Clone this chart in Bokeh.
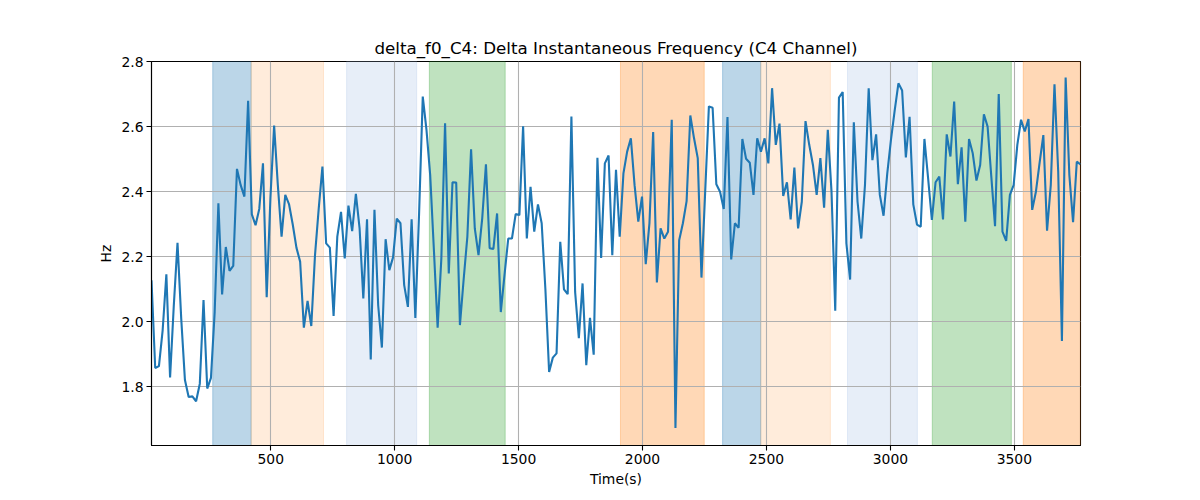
from bokeh.plotting import figure
from bokeh.models import BoxAnnotation, Range1d, FixedTicker, NumeralTickFormatter
from bokeh.embed import file_html
from bokeh.resources import INLINE
import numpy as np

# time axis: first and last sample (s)
T_START = 19
T_END = 3767

# delta instantaneous frequency (Hz)
freq = [
    2.128, 1.858, 1.864, 1.974, 2.146, 1.829, 2.05, 2.243, 2.01, 1.821,
    1.769, 1.771, 1.756, 1.810, 2.067, 1.795, 1.828, 2.03, 2.364, 2.084,
    2.230, 2.157, 2.172, 2.470, 2.42, 2.385, 2.679, 2.330, 2.297, 2.347,
    2.487, 2.076, 2.38, 2.603, 2.42, 2.262, 2.39, 2.362, 2.30, 2.228,
    2.185, 1.982, 2.064,
    1.987, 2.205, 2.348, 2.477, 2.241, 2.228, 2.018, 2.262, 2.338, 2.195,
    2.357, 2.279, 2.393, 2.287, 2.072, 2.315, 1.884, 2.344, 2.051, 1.921,
    2.254, 2.159, 2.198, 2.317, 2.303, 2.113, 2.046, 2.315, 2.012, 2.33,
    2.692, 2.59, 2.45, 2.22, 1.982, 2.195, 2.610, 2.149, 2.429, 2.428,
    1.990,
    2.13, 2.262, 2.53, 2.287, 2.205, 2.318, 2.484, 2.226, 2.224, 2.333,
    2.03, 2.144, 2.256, 2.256, 2.331, 2.328, 2.601, 2.256, 2.415, 2.277,
    2.361, 2.303, 2.10, 1.846, 1.890, 1.903, 2.246, 2.10, 2.085, 2.631,
    2.092, 1.950, 2.118, 1.867, 2.012, 1.899, 2.504, 2.196, 2.487, 2.511,
    2.205, 2.467,
    2.262, 2.456, 2.523, 2.564, 2.42, 2.308, 2.385, 2.177, 2.303, 2.583,
    2.121, 2.287, 2.256, 2.277, 2.621, 1.674, 2.251, 2.303, 2.371, 2.634,
    2.564, 2.503, 2.136, 2.40, 2.662, 2.658, 2.423, 2.40, 2.347, 2.629,
    2.192, 2.303, 2.289, 2.562, 2.501, 2.489, 2.39, 2.564, 2.523, 2.564,
    2.487,
    2.718, 2.544, 2.609, 2.387, 2.429, 2.315, 2.474, 2.287, 2.369, 2.617,
    2.544, 2.482, 2.39, 2.503, 2.351, 2.59, 2.40, 2.034, 2.689, 2.706,
    2.241, 2.130, 2.613, 2.369, 2.256, 2.42, 2.718, 2.497, 2.576, 2.39,
    2.326, 2.456, 2.56, 2.65, 2.733, 2.711, 2.505, 2.63, 2.361, 2.299,
    2.292, 2.562,
    2.44, 2.313, 2.429, 2.446, 2.315, 2.576, 2.508, 2.677, 2.423, 2.536,
    2.308, 2.562, 2.518, 2.434, 2.482, 2.638, 2.60, 2.446, 2.294, 2.70,
    2.277, 2.249, 2.39, 2.42, 2.544, 2.621, 2.585, 2.623, 2.344, 2.40,
    2.489, 2.574, 2.28, 2.42, 2.730, 2.462, 1.941, 2.751, 2.451, 2.306,
    2.492, 2.484,
]
times = np.linspace(T_START, T_END, len(freq))

# shaded stages: start, end, colour, alpha
span_left = [266, 421, 806, 1140, 1911, 2323, 2477, 2827, 3169, 3536]
span_right = [421, 713, 1089, 1446, 2249, 2477, 2758, 3109, 3488, 3767]
span_color = ["#1f77b4", "#ff7f0e", "#aec7e8", "#2ca02c", "#ff7f0e",
              "#1f77b4", "#ff7f0e", "#aec7e8", "#2ca02c", "#ff7f0e"]
span_alpha = [0.3, 0.15, 0.3, 0.3, 0.3, 0.3, 0.15, 0.3, 0.3, 0.3]

x_ticks = [500, 1000, 1500, 2000, 2500, 3000, 3500]
y_ticks = [1.8, 2.0, 2.2, 2.4, 2.6, 2.8]

p = figure(width=1192, height=492,
           title="delta_f0_C4: Delta Instantaneous Frequency (C4 Channel)",
           x_axis_label="Time(s)", y_axis_label="Hz",
           x_range=Range1d(T_START, T_END), y_range=Range1d(1.62, 2.80),
           output_backend="svg", toolbar_location=None,
           min_border_left=151, min_border_right=112,
           min_border_top=61, min_border_bottom=47)

for l, r, c, a in zip(span_left, span_right, span_color, span_alpha):
    p.add_layout(BoxAnnotation(left=l, right=r, fill_color=c, fill_alpha=a,
                               line_color=c, line_alpha=a, line_width=1,
                               level="image"))

p.line(times, freq, color="#1f77b4", line_width=2.1)

p.title.align = "center"
p.title.text_font = "DejaVu Sans"
p.title.text_font_size = "16.7px"
p.title.text_font_style = "normal"
p.title.text_color = "black"
p.title.standoff = 8

p.outline_line_color = "black"
p.outline_line_width = 1.1
p.outline_line_alpha = 1

p.xaxis.ticker = FixedTicker(ticks=x_ticks)
p.yaxis.ticker = FixedTicker(ticks=y_ticks)
p.yaxis[0].formatter = NumeralTickFormatter(format="0.0")

for ax in (p.xaxis, p.yaxis):
    ax.axis_line_color = "black"
    ax.axis_line_width = 1.1
    ax.major_tick_line_color = "black"
    ax.major_tick_line_width = 1.1
    ax.major_tick_in = 0
    ax.major_tick_out = 5
    ax.minor_tick_line_color = None
    ax.major_label_text_font = "DejaVu Sans"
    ax.major_label_text_font_size = "13.9px"
    ax.major_label_text_color = "black"
    ax.axis_label_text_font = "DejaVu Sans"
    ax.axis_label_text_font_size = "13.9px"
    ax.axis_label_text_font_style = "normal"
    ax.axis_label_text_color = "black"
    ax.major_label_standoff = 3
    ax.axis_label_standoff = 4

p.grid.grid_line_color = "#b0b0b0"
p.grid.grid_line_width = 1.1
p.grid.grid_line_alpha = 1

open("out.html", "w").write(file_html(p, INLINE))
